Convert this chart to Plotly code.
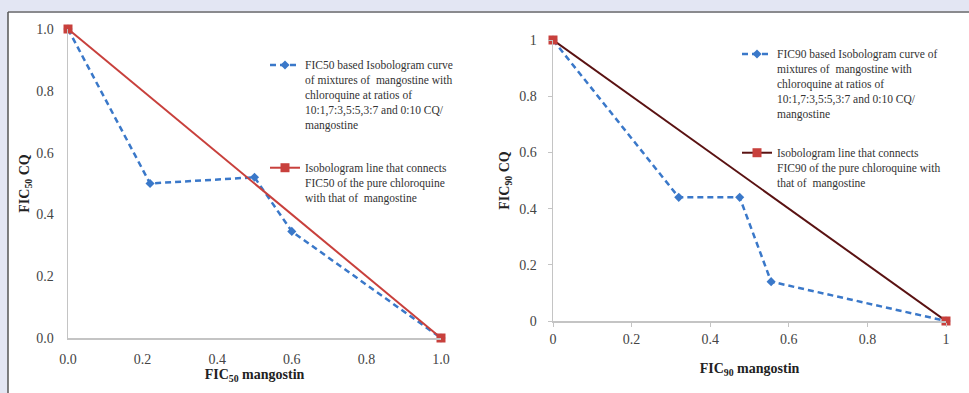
import plotly.graph_objects as go

# ---- data ----
fic50_x_mix = [0.0, 0.22, 0.50, 0.60, 1.0]
fic50_y_mix = [1.0, 0.50, 0.52, 0.345, 0.0]
fic50_x_line = [0.0, 1.0]
fic50_y_line = [1.0, 0.0]

fic90_x_mix = [0.0, 0.32, 0.475, 0.555, 1.0]
fic90_y_mix = [1.0, 0.44, 0.44, 0.14, 0.0]
fic90_x_line = [0.0, 1.0]
fic90_y_line = [1.0, 0.0]

ticks = [0.0, 0.2, 0.4, 0.6, 0.8, 1.0]
ticks90_text = ["0", "0.2", "0.4", "0.6", "0.8", "1"]

leg1_mix = ("FIC50 based Isobologram curve<br>of mixtures of  mangostine with<br>"
            "chloroquine at ratios of<br>10:1,7:3,5:5,3:7 and 0:10 CQ/<br>mangostine")
leg1_line = ("Isobologram line that connects<br>FIC50 of the pure chloroquine<br>"
             "with that of  mangostine")
leg2_mix = ("FIC90 based Isobologram curve of<br>mixtures of  mangostine with<br>"
            "chloroquine at ratios of<br>10:1,7:3,5:5,3:7 and 0:10 CQ/<br>mangostine")
leg2_line = ("Isobologram line that connects<br>FIC90 of the pure chloroquine with<br>"
             "that of  mangostine")

W, H = 969, 393
BLUE = "#3a78c9"
RED = "#c8403c"
MAROON = "#5a1212"
FONT = "Liberation Serif"
TXT = "#444444"
BG = "#e3e6f3"

def px(x):
    return x / W

def py(y):
    return (H - y) / H

fig = go.Figure()

DASH = "6px,4px"

# left chart
fig.add_trace(go.Scatter(x=fic50_x_mix, y=fic50_y_mix, mode="lines+markers", name=leg1_mix,
                         line=dict(color=BLUE, width=2.5, dash=DASH),
                         marker=dict(symbol="diamond", size=7, color=BLUE),
                         xaxis="x", yaxis="y", legend="legend", legendgroup="a", cliponaxis=False))
fig.add_trace(go.Scatter(x=fic50_x_line, y=fic50_y_line, mode="lines+markers", name=leg1_line,
                         line=dict(color=RED, width=2),
                         marker=dict(symbol="square", size=9, color=RED),
                         xaxis="x", yaxis="y", legend="legend", legendgroup="b", cliponaxis=False))
# right chart
fig.add_trace(go.Scatter(x=fic90_x_mix, y=fic90_y_mix, mode="lines+markers", name=leg2_mix,
                         line=dict(color=BLUE, width=2.5, dash=DASH),
                         marker=dict(symbol="diamond", size=7, color=BLUE),
                         xaxis="x2", yaxis="y2", legend="legend2", legendgroup="c", cliponaxis=False))
fig.add_trace(go.Scatter(x=fic90_x_line, y=fic90_y_line, mode="lines+markers", name=leg2_line,
                         line=dict(color=MAROON, width=2),
                         marker=dict(symbol="square", size=9, color=RED),
                         xaxis="x2", yaxis="y2", legend="legend2", legendgroup="d", cliponaxis=False))

axis_common = dict(showgrid=False, zeroline=False, showline=True, linecolor="#c4c4c4",
                   linewidth=1.5, tickfont=dict(family=FONT, size=14, color=TXT),
                   range=[0, 1], tickvals=ticks, tickmode="array", fixedrange=True,
                   automargin=False)

title_font = dict(family=FONT, size=14, color="#222222")
leg_font = dict(family=FONT, size=11.5, color="#333333")

fig.update_layout(
    width=W, height=H,
    margin=dict(l=0, r=0, t=0, b=0, autoexpand=False),
    paper_bgcolor=BG,
    plot_bgcolor="rgba(0,0,0,0)",
    showlegend=True,
    xaxis=dict(**axis_common, domain=[px(68), px(441)], anchor="y", tickformat=".1f",
               ticks="", ticklabelstandoff=8,
               title=dict(text="<b>FIC<sub>50</sub> mangostin</b>", font=title_font, standoff=3)),
    yaxis=dict(**axis_common, domain=[py(338), py(29)], anchor="x", tickformat=".1f",
               ticks="", ticklabelstandoff=10,
               title=dict(text="<b>FIC<sub>50</sub> CQ</b>", font=title_font, standoff=3)),
    xaxis2=dict(**axis_common, domain=[px(553), px(946)], anchor="y2", ticktext=ticks90_text,
                ticks="outside", ticklen=4, tickcolor="#c4c4c4", ticklabelstandoff=1,
                title=dict(text="<b>FIC<sub>90</sub> mangostin</b>", font=title_font, standoff=17)),
    yaxis2=dict(**axis_common, domain=[py(321), py(40)], anchor="x2", ticktext=ticks90_text,
                ticks="outside", ticklen=4, tickcolor="#c4c4c4", ticklabelstandoff=8,
                title=dict(text="<b>FIC<sub>90</sub> CQ</b>", font=title_font, standoff=6)),
    legend=dict(x=px(265), y=py(51), xanchor="left", yanchor="top", bgcolor="rgba(0,0,0,0)",
                font=leg_font, valign="top",
                traceorder="grouped", tracegroupgap=25, itemclick=False),
    legend2=dict(x=px(737), y=py(40), xanchor="left", yanchor="top", bgcolor="rgba(0,0,0,0)",
                 font=leg_font, valign="top",
                 traceorder="grouped", tracegroupgap=21, itemclick=False),
    shapes=[
        dict(type="rect", xref="paper", yref="paper", x0=px(8), x1=1.01, y0=-0.01, y1=py(12),
             fillcolor="white", line=dict(width=0), layer="below"),
        dict(type="line", xref="paper", yref="paper", x0=px(8), x1=1.01, y0=py(12), y1=py(12),
             line=dict(color="#8a8a8e", width=2), layer="below"),
        dict(type="line", xref="paper", yref="paper", x0=px(8), x1=px(8), y0=-0.01, y1=py(12),
             line=dict(color="#555555", width=1.5), layer="below"),
    ],
)

fig.write_html("out.html",
               config={"displayModeBar": False, "staticPlot": True},
               post_script="document.body.style.margin='0';document.body.style.padding='0';"
                           "document.body.style.overflow='hidden';"
                           "document.body.style.background='" + BG + "';")
